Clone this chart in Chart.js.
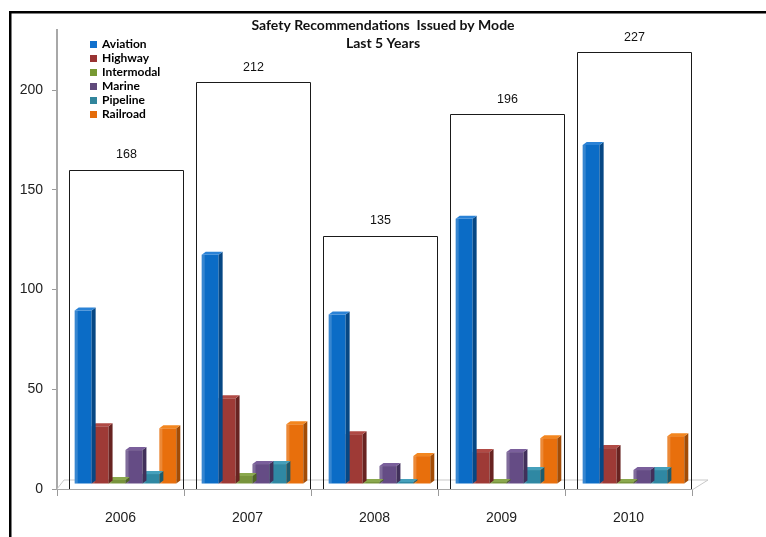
<!DOCTYPE html>
<html>
<head>
<meta charset="utf-8">
<script src="https://cdn.jsdelivr.net/npm/chart.js@4"></script>
<style>
  html, body { margin: 0; padding: 0; background: #fff; }
  #wrap { position: relative; width: 766px; height: 537px; }
</style>
</head>
<body>
<div id="wrap"><canvas id="c" width="766" height="537"></canvas></div>
<script>
// ---- data ----
const years      = ['2006', '2007', '2008', '2009', '2010'];
const aviation   = [87, 115, 85, 133, 170];
const highway    = [29, 43, 25, 16, 18];
const intermodal = [2, 4, 1, 1, 1];
const marine     = [17, 10, 9, 16, 7];
const pipeline   = [5, 10, 1, 7, 7];
const railroad   = [28, 30, 14, 23, 24];
const totals     = [168, 212, 135, 196, 227];
const yTicks     = [0, 50, 100, 150, 200];
const seriesNames = ['Aviation', 'Highway', 'Intermodal', 'Marine', 'Pipeline', 'Railroad'];
const titleLines = ['Safety Recommendations  Issued by Mode', 'Last 5 Years'];

// ---- styles ----
const frontColors = ['#0b6cc6', '#9e3a36', '#78943c', '#654c85', '#2f88a3', '#e86f0c'];
const sideColors  = ['#064784', '#682321', '#4f6526', '#41305a', '#1d5b6d', '#a24c06'];
const topColors   = ['#2a82d6', '#b04a45', '#8aa84d', '#7a5f9b', '#45a0bb', '#f3861f'];
const legendColors = ['#1170cc', '#993333', '#779933', '#604a7b', '#31859c', '#e46c0a'];
const seriesData = [aviation, highway, intermodal, marine, pipeline, railroad];

const DEPTH_X = 4, DEPTH_Y = 3;       // 3D face depth of the bars
const SHIFT_X = 5, SHIFT_Y = -5;      // bars sit on the back of the 3D floor

const datasets = seriesNames.map((name, i) => ({
  label: name,
  data: seriesData[i],
  backgroundColor: frontColors[i],
  borderWidth: 0,
  clip: false,
  sideColor: sideColors[i],
  topColor: topColors[i],
  legendColor: legendColors[i]
}));

const framePlugin = {
  id: 'frame',
  beforeDraw(chart) {
    const ctx = chart.ctx;
    ctx.save();
    ctx.fillStyle = '#ffffff';
    ctx.fillRect(0, 0, chart.width, chart.height);
    ctx.fillStyle = '#000000';
    ctx.fillRect(9, 11, chart.width - 9, 2.5);
    ctx.fillRect(9, 11, 2.5, chart.height - 11);
    ctx.restore();
  }
};

const bars3dPlugin = {
  id: 'bars3d',
  beforeDatasetsDraw(chart) {
    const ctx = chart.ctx;
    const a = chart.chartArea;
    // 3D floor edges
    ctx.save();
    ctx.strokeStyle = '#c9c9c9';
    ctx.lineWidth = 1;
    ctx.beginPath();
    ctx.moveTo(a.left, a.bottom);
    ctx.lineTo(a.left + 7, a.bottom - 9);
    ctx.lineTo(a.right + 16, a.bottom - 9);
    ctx.lineTo(a.right, a.bottom + 1);
    ctx.stroke();
    ctx.restore();
    ctx.save();
    ctx.translate(SHIFT_X, SHIFT_Y);
  },
  afterDatasetDraw(chart, args) {
    const ctx = chart.ctx;
    const ds = chart.data.datasets[args.index];
    args.meta.data.forEach(bar => {
      const p = bar.getProps(['x', 'y', 'base', 'width'], true);
      const l = p.x - p.width / 2, r = p.x + p.width / 2;
      const top = Math.min(p.y, p.base), bot = Math.max(p.y, p.base);
      // light left edge on the front face
      ctx.fillStyle = 'rgba(255,255,255,0.18)';
      ctx.fillRect(l, top, 3, bot - top);
      // side face
      ctx.fillStyle = ds.sideColor;
      ctx.beginPath();
      ctx.moveTo(r, top);
      ctx.lineTo(r + DEPTH_X, top - DEPTH_Y);
      ctx.lineTo(r + DEPTH_X, bot - DEPTH_Y);
      ctx.lineTo(r, bot);
      ctx.closePath();
      ctx.fill();
      // top face
      ctx.fillStyle = ds.topColor;
      ctx.beginPath();
      ctx.moveTo(l, top);
      ctx.lineTo(l + DEPTH_X, top - DEPTH_Y);
      ctx.lineTo(r + DEPTH_X, top - DEPTH_Y);
      ctx.lineTo(r, top);
      ctx.closePath();
      ctx.fill();
    });
  },
  afterDatasetsDraw(chart) {
    chart.ctx.restore();
  }
};

const boxesPlugin = {
  id: 'boxes',
  afterDatasetsDraw(chart) {
    const ctx = chart.ctx;
    const xs = chart.scales.x, ys = chart.scales.y;
    const step = xs.width / years.length;
    ctx.save();
    ctx.strokeStyle = '#1a1a1a';
    ctx.lineWidth = 1;
    ctx.font = '12.5px "Liberation Sans", Arial, sans-serif';
    ctx.fillStyle = '#111';
    ctx.textAlign = 'center';
    ctx.textBaseline = 'middle';
    totals.forEach((t, i) => {
      const cx = xs.getPixelForValue(i);
      const left = Math.round(cx - step / 2 + 12) + 0.5;
      const right = Math.round(cx + step / 2 - 1) + 0.5;
      const yTot = ys.getPixelForValue(t);
      const top = Math.round(yTot + 16) + 0.5;
      const bottom = ys.getPixelForValue(0);
      ctx.beginPath();
      ctx.moveTo(left, bottom);
      ctx.lineTo(left, top);
      ctx.lineTo(right, top);
      ctx.lineTo(right, bottom);
      ctx.stroke();
      ctx.fillText(String(t), (left + right) / 2, yTot + 1);
    });
    ctx.restore();
  }
};

const legendPlugin = {
  id: 'boxLegend',
  afterDraw(chart) {
    const ctx = chart.ctx;
    ctx.save();
    ctx.font = 'bold 12px Lato, "Open Sans", sans-serif';
    ctx.textBaseline = 'middle';
    ctx.textAlign = 'left';
    chart.data.datasets.forEach((ds, i) => {
      const cy = 44 + i * 14.1;
      ctx.fillStyle = ds.legendColor;
      ctx.fillRect(90, Math.round(cy - 3.5), 7, 7);
      ctx.fillStyle = '#000';
      ctx.fillText(ds.label, 102, cy);
    });
    ctx.restore();
  }
};

new Chart(document.getElementById('c'), {
  type: 'bar',
  data: { labels: years, datasets },
  options: {
    responsive: false,
    animation: false,
    devicePixelRatio: 1,
    layout: { padding: 0 },
    datasets: { bar: { barPercentage: 1, categoryPercentage: 0.8 } },
    plugins: {
      legend: { display: false },
      tooltip: { enabled: false },
      title: {
        display: true,
        text: titleLines,
        color: '#111',
        font: { family: 'Lato', weight: 'bold', size: 14, lineHeight: 1.3 },
        padding: { top: 16, bottom: -22 }
      }
    },
    scales: {
      x: {
        grid: { drawOnChartArea: false, tickLength: 7, color: '#9a9a9a', offset: true },
        border: { color: '#a8a8a8', width: 1 },
        ticks: { color: '#222', font: { family: '"Liberation Sans", Arial', size: 14 }, padding: 14 },
        afterFit(s) { s.height = 48; }
      },
      y: {
        min: 0,
        max: 230,
        grid: { drawOnChartArea: false, tickLength: 5, color: '#9a9a9a' },
        border: { color: '#a8a8a8', width: 2 },
        ticks: { color: '#222', font: { family: '"Liberation Sans", Arial', size: 14 }, padding: 9 },
        afterBuildTicks(axis) { axis.ticks = yTicks.map(v => ({ value: v })); },
        afterFit(s) { s.width = 57; }
      },
      y2: {
        position: 'right',
        display: true,
        grid: { display: false },
        ticks: { display: false },
        border: { display: false },
        afterFit(s) { s.width = 74; }
      }
    }
  },
  plugins: [framePlugin, bars3dPlugin, boxesPlugin, legendPlugin]
});
</script>
</body>
</html>
